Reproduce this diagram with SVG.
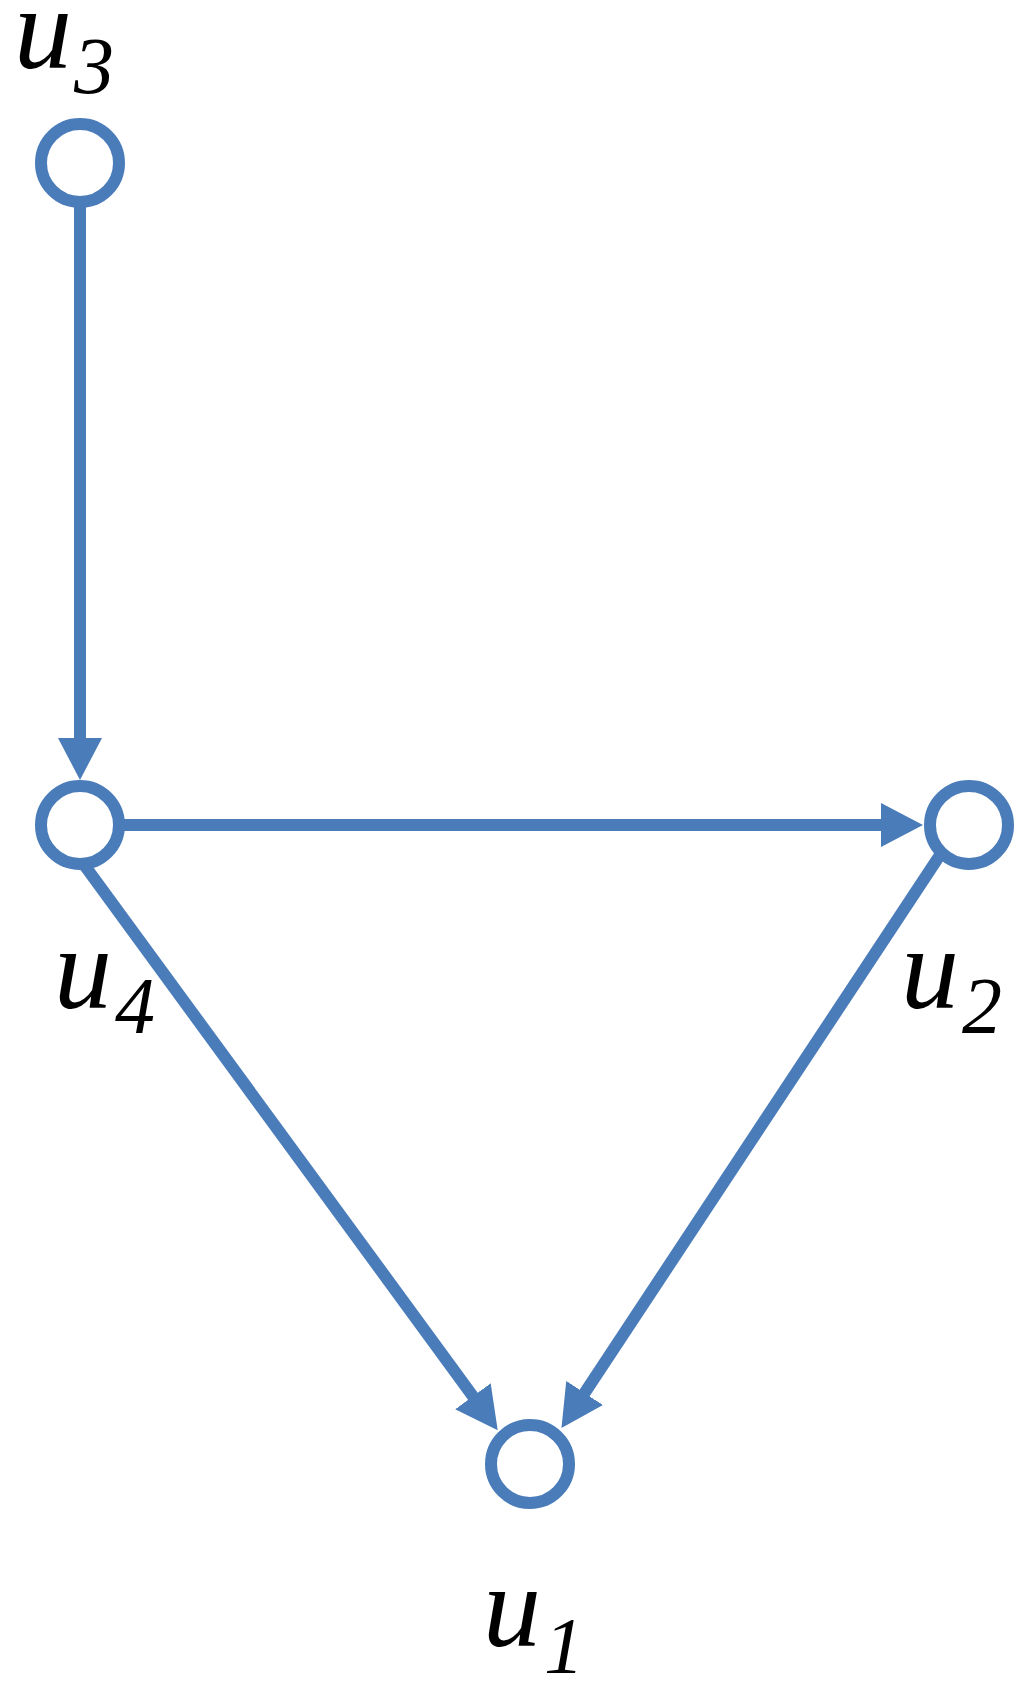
<svg xmlns="http://www.w3.org/2000/svg" width="1030" height="1692" viewBox="0 0 1030 1692">
<style>
.node{fill:#ffffff;stroke:#4a7cba;stroke-width:12}
.edge{stroke:#4a7cba;stroke-width:12;fill:none}
</style>
<defs>
<marker id="arr" markerUnits="userSpaceOnUse" viewBox="0 0 42 44" refX="12" refY="22" markerWidth="42" markerHeight="44" orient="auto">
<path d="M0,0 L42,22 L0,44 z" fill="#4a7cba"/>
</marker>
</defs>
<rect width="1030" height="1692" fill="#ffffff"/>
<g id="edges">
<line class="edge" x1="80" y1="206" x2="80" y2="750" marker-end="url(#arr)"/>
<line class="edge" x1="123" y1="825" x2="893" y2="825" marker-end="url(#arr)"/>
<line class="edge" x1="85" y1="866" x2="480" y2="1406" marker-end="url(#arr)"/>
<line class="edge" x1="940" y1="855" x2="578" y2="1403" marker-end="url(#arr)"/>
</g>
<g font-family="Liberation Serif, Times New Roman, serif" font-style="italic" fill="#000000">
<g id="u3">
<circle class="node" cx="80" cy="163" r="39"/>
<text font-size="116" x="14" y="68">u</text>
<text font-size="80" x="74" y="93">3</text>
</g>
<g id="u4">
<circle class="node" cx="80" cy="825" r="39"/>
<text font-size="116" x="54" y="1008">u</text>
<text font-size="80" x="115" y="1033">4</text>
</g>
<g id="u2">
<circle class="node" cx="969" cy="825" r="39"/>
<text font-size="116" x="901" y="1008">u</text>
<text font-size="80" x="962" y="1033">2</text>
</g>
<g id="u1">
<circle class="node" cx="530" cy="1464" r="39"/>
<text font-size="116" x="483" y="1646">u</text>
<text font-size="80" x="544" y="1673">1</text>
</g>
</g>
</svg>
